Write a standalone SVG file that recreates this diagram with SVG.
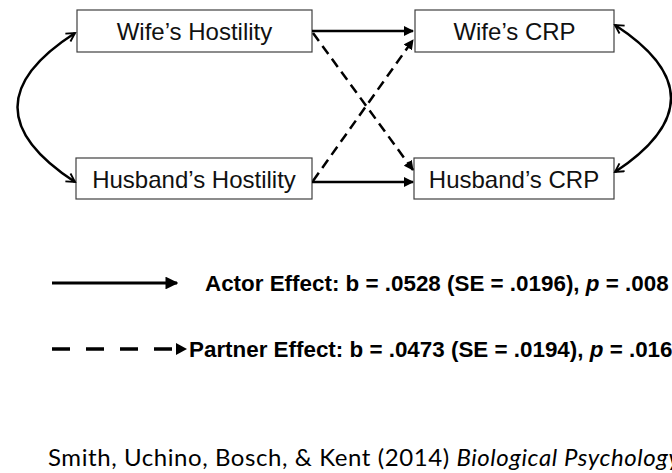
<svg xmlns="http://www.w3.org/2000/svg" width="672" height="473" viewBox="0 0 672 473">
<style>
.box{fill:#fff;stroke:#404040;stroke-width:1.2}
.lbl{font-family:"Liberation Sans",Arial,sans-serif;font-size:24px;fill:#111;text-anchor:middle}
.conn{stroke:#000;stroke-width:2.5;fill:none}
.dash{stroke-dasharray:10 6}
.leg{font-family:"Liberation Sans",Arial,sans-serif;font-size:22.4px;font-weight:bold;fill:#000}
.cite{font-family:Lato,"Open Sans",sans-serif;font-size:24px;fill:#000}
</style>
<defs>
<marker id="tri" viewBox="0 0 10 10" refX="9" refY="5" markerWidth="4" markerHeight="4" orient="auto" markerUnits="strokeWidth">
<path d="M0,0 L10,5 L0,10 Z" fill="#000"/>
</marker>
<marker id="vee" viewBox="0 0 12 12" refX="10" refY="6" markerWidth="4.5" markerHeight="4.5" orient="auto-start-reverse" markerUnits="strokeWidth">
<path d="M1,1 L10,6 L1,11" fill="none" stroke="#000" stroke-width="2"/>
</marker>
</defs>
<g id="wife-hostility"><rect class="box" x="77" y="10" width="235" height="42"/><text class="lbl" x="194.5" y="40">Wife’s Hostility</text></g>
<g id="husband-hostility"><rect class="box" x="76" y="158" width="236" height="41"/><text class="lbl" x="194" y="188">Husband’s Hostility</text></g>
<g id="wife-crp"><rect class="box" x="415" y="10" width="199" height="42"/><text class="lbl" x="514.5" y="40">Wife’s CRP</text></g>
<g id="husband-crp"><rect class="box" x="414" y="158" width="200" height="41"/><text class="lbl" x="514" y="188">Husband’s CRP</text></g>
<g id="connectors">
<line class="conn" x1="312" y1="31" x2="413" y2="31" marker-end="url(#tri)"/>
<line class="conn" x1="312" y1="182" x2="413" y2="182" marker-end="url(#tri)"/>
<line class="conn dash" x1="313" y1="33" x2="413" y2="170" marker-end="url(#tri)"/>
<line class="conn dash" x1="313" y1="181" x2="413" y2="40" marker-end="url(#tri)"/>
<path class="conn" d="M75,33 Q-40,107 75,182" marker-start="url(#vee)" marker-end="url(#vee)"/>
<path class="conn" d="M615,25 Q727,98 615,172" marker-start="url(#vee)" marker-end="url(#vee)"/>
</g>
<g id="legend">
<line x1="52" y1="283" x2="177" y2="283" stroke="#000" stroke-width="3.2" marker-end="url(#tri)"/>
<text class="leg" x="205" y="291">Actor Effect: b = .0528 (SE = .0196), <tspan font-style="italic">p</tspan> = .008</text>
<line x1="52" y1="349" x2="172" y2="349" stroke="#000" stroke-width="3.5" stroke-dasharray="18 16"/>
<path d="M176,343 L187,349 L176,355 Z" fill="#000"/>
<text class="leg" x="189" y="357">Partner Effect: b = .0473 (SE = .0194), <tspan font-style="italic">p</tspan> = .016</text>
</g>
<text class="cite" x="48" y="466" textLength="632" lengthAdjust="spacing">Smith, Uchino, Bosch, &amp; Kent (2014) <tspan font-style="italic">Biological Psychology</tspan></text>
</svg>
